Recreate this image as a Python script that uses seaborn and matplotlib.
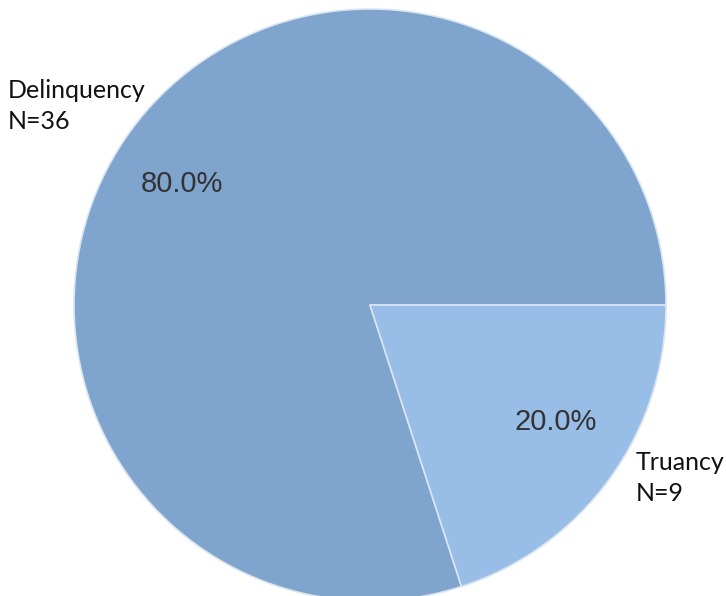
import matplotlib
matplotlib.use("Agg")
import matplotlib.pyplot as plt
import seaborn as sns

# data
categories = ["Delinquency", "Truancy"]
counts = [36, 9]
colors = ["#7fa4cd", "#98bde6"]

sns.set_theme(style="white")
plt.rcParams['font.family'] = ['Lato', 'DejaVu Sans']

fig = plt.figure(figsize=(7.26, 5.96), dpi=100)
ax = fig.add_axes([0, 0, 1, 1])

labels = [f"{c}\nN={n}" for c, n in zip(categories, counts)]
wedges, texts, autotexts = ax.pie(
    counts, labels=labels, colors=colors, startangle=0, counterclock=True,
    autopct="%1.1f%%", pctdistance=0.75, labeldistance=1.2,
    wedgeprops=dict(edgecolor="#dbe5f0", linewidth=1.2),
    textprops=dict(fontsize=18, color="#111111"))

for t in autotexts:
    t.set_fontfamily("Liberation Sans")
    t.set_fontsize(21)
    t.set_color("#333333")
# percent labels sit a bit off the slice middle in the reference
autotexts[0].set_position((-0.635, 0.409))
autotexts[1].set_position((0.628, -0.395))

# label placement like the reference (left aligned)
texts[0].set_position((-1.223, 0.672))
texts[1].set_position((0.899, -0.585))
for t in texts:
    t.set_ha("left")
    t.set_va("center")
    t.set_linespacing(1.45)

ax.set_xlim(-370 / 296, (726 - 370) / 296)
ax.set_ylim(-(596 - 305) / 296, 305 / 296)
ax.set_aspect("auto")
ax.axis("off")

fig.savefig("out.png", dpi=100, facecolor="white")
plt.close()
